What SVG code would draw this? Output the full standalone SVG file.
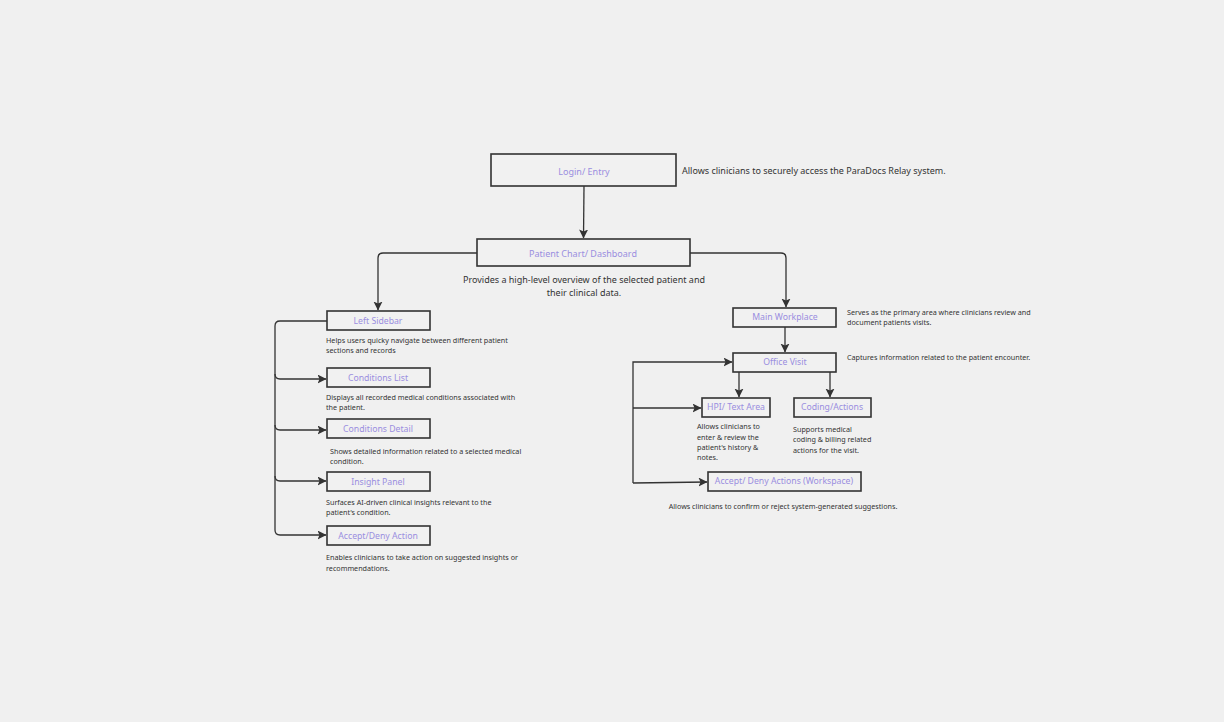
<svg xmlns="http://www.w3.org/2000/svg" width="1224" height="722" viewBox="0 0 1224 722">
<defs>
<marker id="ah" markerUnits="userSpaceOnUse" markerWidth="10" markerHeight="10" refX="8.5" refY="4.5" orient="auto">
<path d="M0,0 L9,4.5 L0,9 L2,4.5 z" fill="#333"/>
</marker>
<style>
.box{fill:#f1f1f1;stroke:#333;stroke-width:1.6}
.lbl{font-family:"Noto Sans","Open Sans",sans-serif;fill:#9a8ee0;text-anchor:middle;dominant-baseline:central}
.big{font-size:9px}
.sm{font-size:8.7px}
.desc{font-family:"Noto Sans","Open Sans",sans-serif;fill:#333}
.d9{font-size:9px}
.d7{font-size:7.2px}
.con{fill:none;stroke:#333;stroke-width:1.3}
</style>
</defs>
<rect width="1224" height="722" fill="#f0f0f0"/>
<g id="connectors">
<path class="con" d="M584,186 L583.5,238" marker-end="url(#ah)"/>
<path class="con" d="M477,253 H383 Q378,253 378,258 V310" marker-end="url(#ah)"/>
<path class="con" d="M690,253 H781 Q786,253 786,258 V307" marker-end="url(#ah)"/>
<path class="con" d="M327,321 H280 Q275,321 275,326 V530 Q275,535 280,535 H326" marker-end="url(#ah)"/>
<path class="con" d="M275,374 Q275,379 280,379 H326" marker-end="url(#ah)"/>
<path class="con" d="M275,425 Q275,430 280,430 H326" marker-end="url(#ah)"/>
<path class="con" d="M275,476 Q275,481 280,481 H326" marker-end="url(#ah)"/>
<path class="con" d="M785,327 V352" marker-end="url(#ah)"/>
<path class="con" d="M739,372 V397" marker-end="url(#ah)"/>
<path class="con" d="M830,372 V397" marker-end="url(#ah)"/>
<path class="con" d="M633,483 V362 H732" marker-end="url(#ah)"/>
<path class="con" d="M633,408 H701" marker-end="url(#ah)"/>
<path class="con" d="M633,483 L707,482" marker-end="url(#ah)"/>
</g>
<g id="login">
<rect class="box" x="491" y="154" width="185" height="32"/>
<text class="lbl big" x="584" y="171">Login/ Entry</text>
<text class="desc d9" x="682" y="174">Allows clinicians to securely access the ParaDocs Relay system.</text>
</g>
<g id="patient-chart">
<rect class="box" x="477" y="239" width="213" height="27"/>
<text class="lbl big" x="583" y="253">Patient Chart/ Dashboard</text>
<text class="desc d9" text-anchor="middle" x="584" y="283">Provides a high-level overview of the selected patient and</text>
<text class="desc d9" text-anchor="middle" x="584" y="296">their clinical data.</text>
</g>
<g id="left-sidebar">
<rect class="box" x="327" y="311" width="103" height="19"/>
<text class="lbl sm" x="378" y="321">Left Sidebar</text>
<text class="desc d7" x="326" y="343">Helps users quicky navigate between different patient</text>
<text class="desc d7" x="326" y="353">sections and records</text>
</g>
<g id="conditions-list">
<rect class="box" x="327" y="368" width="103" height="19"/>
<text class="lbl sm" x="378" y="378">Conditions List</text>
<text class="desc d7" x="326" y="400">Displays all recorded medical conditions associated with</text>
<text class="desc d7" x="326" y="410">the patient.</text>
</g>
<g id="conditions-detail">
<rect class="box" x="327" y="419" width="103" height="19"/>
<text class="lbl sm" x="378" y="429">Conditions Detail</text>
<text class="desc d7" x="330" y="454">Shows detailed information related to a selected medical</text>
<text class="desc d7" x="330" y="464">condition.</text>
</g>
<g id="insight-panel">
<rect class="box" x="327" y="472" width="103" height="19"/>
<text class="lbl sm" x="378" y="482">Insight Panel</text>
<text class="desc d7" x="326" y="505">Surfaces AI-driven clinical insights relevant to the</text>
<text class="desc d7" x="326" y="515">patient's condition.</text>
</g>
<g id="accept-deny-action">
<rect class="box" x="327" y="526" width="103" height="19"/>
<text class="lbl sm" x="378" y="536">Accept/Deny Action</text>
<text class="desc d7" x="326" y="560">Enables clinicians to take action on suggested insights or</text>
<text class="desc d7" x="326" y="571">recommendations.</text>
</g>
<g id="main-workplace">
<rect class="box" x="733" y="308" width="103" height="19"/>
<text class="lbl sm" x="785" y="317">Main Workplace</text>
<text class="desc d7" x="847" y="315">Serves as the primary area where clinicians review and</text>
<text class="desc d7" x="847" y="325">document patients visits.</text>
</g>
<g id="office-visit">
<rect class="box" x="733" y="353" width="103" height="19"/>
<text class="lbl sm" x="785" y="362">Office Visit</text>
<text class="desc d7" x="847" y="360">Captures information related to the patient encounter.</text>
</g>
<g id="hpi">
<rect class="box" x="702" y="398" width="68" height="19"/>
<text class="lbl sm" x="736" y="407">HPI/ Text Area</text>
<text class="desc d7" x="697" y="429">Allows clinicians to</text>
<text class="desc d7" x="697" y="440">enter &amp; review the</text>
<text class="desc d7" x="697" y="450">patient's history &amp;</text>
<text class="desc d7" x="697" y="460">notes.</text>
</g>
<g id="coding-actions">
<rect class="box" x="794" y="398" width="77" height="19"/>
<text class="lbl sm" x="832" y="407">Coding/Actions</text>
<text class="desc d7" x="793" y="432">Supports medical</text>
<text class="desc d7" x="793" y="442">coding &amp; billing related</text>
<text class="desc d7" x="793" y="453">actions for the visit.</text>
</g>
<g id="accept-deny-workspace">
<rect class="box" x="708" y="472" width="153" height="19"/>
<text class="lbl sm" x="784" y="481">Accept/ Deny Actions (Workspace)</text>
<text class="desc d7" text-anchor="middle" x="783" y="509">Allows clinicians to confirm or reject system-generated suggestions.</text>
</g>
</svg>
